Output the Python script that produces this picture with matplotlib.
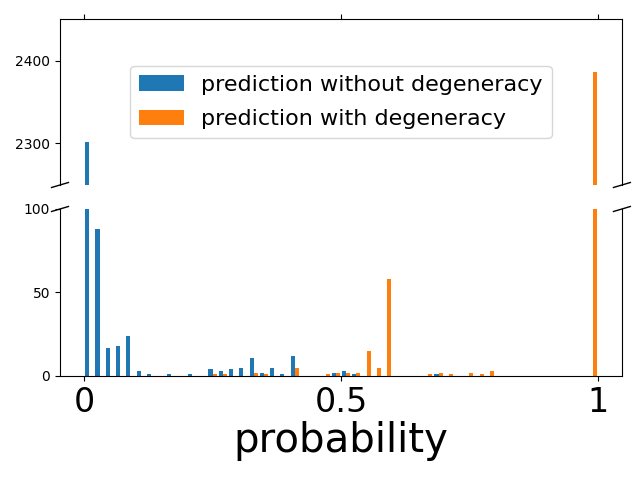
import numpy as np
import matplotlib
matplotlib.use("Agg")
import matplotlib.pyplot as plt

# histogram counts per bin (50 bins on [0, 1])
bin_edges = np.linspace(0, 1, 51)
bins_without = [0, 1, 2, 3, 4, 5, 6, 8, 10, 12, 13, 14, 15, 16, 17, 18, 19, 20, 24, 25, 26, 34]
counts_without = [2302, 88, 17, 18, 24, 3, 1, 1, 1, 4, 3, 4, 5, 11, 2, 5, 1, 12, 2, 3, 1, 1]
bins_with = [12, 13, 16, 17, 20, 23, 24, 25, 26, 27, 28, 29, 33, 34, 35, 37, 38, 39, 49]
counts_with = [1, 1, 2, 1, 5, 1, 2, 2, 2, 15, 5, 58, 1, 2, 1, 2, 1, 3, 2386]
labels = ["prediction without degeneracy", "prediction with degeneracy"]

centers = (bin_edges[:-1] + bin_edges[1:]) / 2
x_without = centers[bins_without]
x_with = centers[bins_with]

fig = plt.figure(figsize=(6.4, 4.8), dpi=100)
ax_top = fig.add_axes([0.09375, 0.6146, 0.878, 0.3458])
ax_bot = fig.add_axes([0.09375, 0.2167, 0.878, 0.3479])

for ax in (ax_top, ax_bot):
    ax.hist([x_without, x_with], bins=bin_edges,
            weights=[counts_without, counts_with], label=labels)
    ax.set_xlim(-0.047, 1.047)
    ax.set_xticks([0, 0.5, 1])

ax_top.set_ylim(2250, 2450)
ax_bot.set_ylim(0, 100)
ax_top.set_yticks([2300, 2400])
ax_bot.set_yticks([0, 50, 100])

ax_top.spines['bottom'].set_visible(False)
ax_bot.spines['top'].set_visible(False)
ax_top.xaxis.tick_top()
ax_top.tick_params(labeltop=False)
ax_bot.xaxis.tick_bottom()

ax_bot.set_xticklabels(['0', '0.5', '1'], fontsize=24)
ax_bot.set_xlabel('probability', fontsize=29, labelpad=2)

# diagonal break marks
d = 0.015
kw = dict(transform=ax_top.transAxes, color='k', clip_on=False, lw=1)
ax_top.plot((-d, +d), (-d, +d), **kw)
ax_top.plot((1 - d, 1 + d), (-d, +d), **kw)
kw.update(transform=ax_bot.transAxes)
ax_bot.plot((-d, +d), (1 - d, 1 + d), **kw)
ax_bot.plot((1 - d, 1 + d), (1 - d, 1 + d), **kw)

ax_top.legend(loc='center', fontsize=16, labelspacing=0.65)

fig.savefig('out.png', dpi=100)
